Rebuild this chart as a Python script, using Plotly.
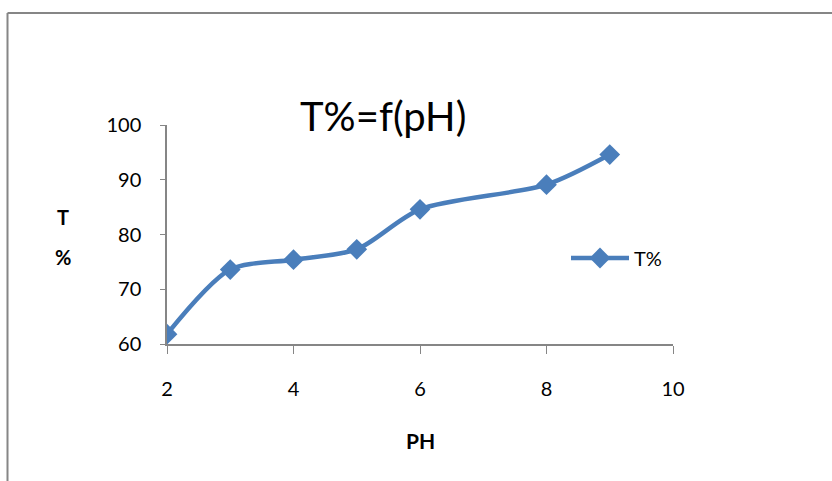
import plotly.graph_objects as go

ph = [2, 3, 4, 5, 6, 8, 9]
t_pct = [61.8, 73.6, 75.4, 77.3, 84.6, 89.1, 94.6]
series_name = "T%"
title_text = "T%=f(pH)"
x_title = "PH"
y_title_lines = ["T", "%"]
x_ticks = [2, 4, 6, 8, 10]
y_ticks = [60, 70, 80, 90, 100]

color = "#4A7EBB"
axis_col = "#868686"
font = "Lato, 'Open Sans', sans-serif"

fig = go.Figure()
fig.add_trace(go.Scatter(
    x=ph, y=t_pct, name=series_name, mode="lines+markers",
    line=dict(color=color, width=4.5, shape="spline", smoothing=0.8),
    marker=dict(symbol="diamond", size=16, color=color),
))

W, H = 832, 481
L, R, T, B = 167, 673, 125, 344
pw, ph_ = R - L, B - T

def px_x(x):
    return (x - L) / pw

def px_y(y):
    return (B - y) / ph_

fig.update_layout(
    width=W, height=H,
    margin=dict(l=L, r=W - R, t=T, b=H - B),
    paper_bgcolor="white", plot_bgcolor="white",
    font=dict(family=font, color="black", size=20),
    showlegend=True,
    legend=dict(x=px_x(566), y=px_y(258), xanchor="left", yanchor="middle",
                itemwidth=58, font=dict(size=20), bgcolor="rgba(0,0,0,0)"),
    xaxis=dict(range=[2, 10], tickvals=x_ticks, showgrid=False, zeroline=False,
               showline=True, linecolor=axis_col, linewidth=1.5,
               ticks="outside", ticklen=8, tickcolor=axis_col,
               ticklabelstandoff=18),
    yaxis=dict(range=[60, 100], tickvals=y_ticks, showgrid=False, zeroline=False,
               showline=True, linecolor=axis_col, linewidth=1.5,
               ticks="outside", ticklen=5, tickcolor=axis_col,
               ticklabelstandoff=15),
)

fig.add_annotation(text=title_text, xref="paper", yref="paper",
                   x=px_x(383), y=px_y(116), showarrow=False,
                   font=dict(size=40), xanchor="center", yanchor="middle")
for txt, yy in zip(y_title_lines, [217, 257]):
    fig.add_annotation(text="<b>" + txt + "</b>", xref="paper", yref="paper",
                       x=px_x(63), y=px_y(yy), showarrow=False,
                       font=dict(size=20), xanchor="center", yanchor="middle")
fig.add_annotation(text="<b>" + x_title + "</b>", xref="paper", yref="paper",
                   x=px_x(420), y=px_y(440), showarrow=False,
                   font=dict(size=21), xanchor="center", yanchor="middle")

# outer chart border (left and top visible)
fig.add_shape(type="line", xref="paper", yref="paper",
              x0=px_x(7.5), x1=px_x(7.5), y0=px_y(13), y1=px_y(490),
              line=dict(color=axis_col, width=2))
fig.add_shape(type="line", xref="paper", yref="paper",
              x0=px_x(7.5), x1=px_x(840), y0=px_y(13), y1=px_y(13),
              line=dict(color=axis_col, width=2))

fig.write_html("out.html")
